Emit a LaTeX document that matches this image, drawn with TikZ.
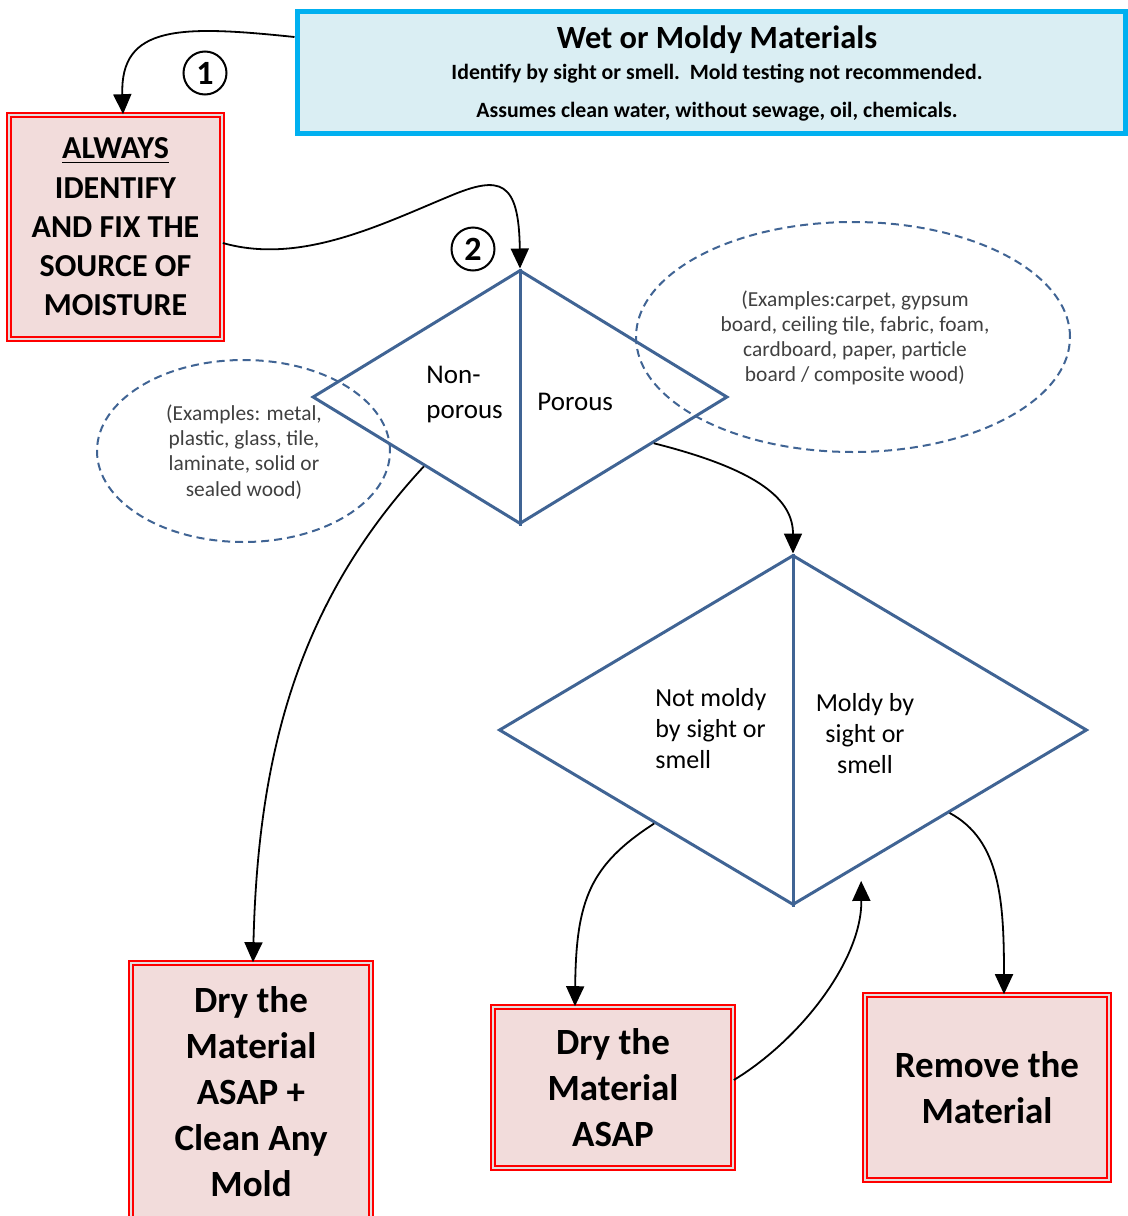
\documentclass[tikz,border=0pt]{standalone}
\usepackage{fontspec}
\setmainfont{Carlito}
\usetikzlibrary{arrows.meta,shapes.geometric,calc}
\definecolor{boxfill}{HTML}{F2DCDB}
\definecolor{topfill}{HTML}{DAEEF3}
\definecolor{topline}{HTML}{00B0F0}
\definecolor{dblue}{RGB}{64,100,148}
\definecolor{etext}{HTML}{404040}
\begin{document}
\begin{tikzpicture}[x=0.5pt,y=-0.5pt,
 redbox/.style={draw=red, double=black!12, double distance=1pt, line width=0.8pt, fill=boxfill, align=center, inner sep=0pt},
 dec/.style={diamond, draw=dblue, line width=1.5pt, inner sep=0pt},
 exell/.style={ellipse, draw=dblue, dash pattern=on 4pt off 2.5pt, line width=1pt, inner sep=0pt},
 txt/.style={inner sep=0pt},
 etxt/.style={inner sep=0pt, font=\fontsize{10.7}{12.6}\selectfont, text=etext, align=center},
 conn/.style={draw=black, line width=0.9pt, -{Triangle[length=10pt,width=9pt]}},
 num/.style={circle, draw, line width=1pt, minimum size=21.5pt, inner sep=0pt, font=\fontsize{17}{17}\selectfont\bfseries}
]
\useasboundingbox (0,0) rectangle (1128,1216);

% top box
\node[draw=topline, line width=2.5pt, fill=topfill, minimum width=414pt, minimum height=61pt, inner sep=0pt] (top) at (711,72) {};
\node[txt, font=\fontsize{16.2}{18}\selectfont\bfseries] (title) at (717,40) {Wet or Moldy Materials};
\node[txt, font=\fontsize{10.9}{12}\selectfont\bfseries] (sub1) at (717,74) {Identify by sight or smell.\ \ Mold testing not recommended.};
\node[txt, font=\fontsize{10.9}{12}\selectfont\bfseries] (sub2) at (717,112) {Assumes clean water, without sewage, oil, chemicals.};

% ellipses
\node[exell, minimum width=217pt, minimum height=115pt] (e1) at (853,337) {};
\node[etxt] (e1t) at (855,338) {(Examples:carpet, gypsum\\board, ceiling tile, fabric, foam,\\cardboard, paper, particle\\board / composite wood)};
\node[exell, minimum width=146.5pt, minimum height=91pt] (e2) at (243.5,451) {};
\node[etxt] (e2t) at (244,452) {(Examples: metal,\\plastic, glass, tile,\\laminate, solid or\\sealed wood)};

% diamonds
\node[dec, minimum width=207.5pt, minimum height=127pt] (d1) at (520,397) {};
\draw[dblue, line width=1.5pt] (d1.north) -- (d1.south);
\node[dec, minimum width=294pt, minimum height=175pt] (d2) at (793,730) {};
\draw[dblue, line width=1.5pt] (d2.north) -- (d2.south);

\node[txt, font=\fontsize{13.5}{17.5}\selectfont, align=left, anchor=west] (t1) at (426,395) {Non-\\porous};
\node[txt, font=\fontsize{13.5}{17.5}\selectfont, anchor=west] (t2) at (537,402) {Porous};
\node[txt, font=\fontsize{13}{15.5}\selectfont, align=left, anchor=west] (t3) at (655,729) {Not moldy\\by sight or\\smell};
\node[txt, font=\fontsize{13}{15.5}\selectfont, align=center] (t4) at (865,734) {Moldy by\\sight or\\smell};

% red boxes
\node[redbox, minimum width=106.5pt, minimum height=112pt, font=\fontsize{16}{19.6}\selectfont\bfseries] (always) at (115.5,227) {\underline{ALWAYS}\\IDENTIFY\\AND FIX THE\\SOURCE OF\\MOISTURE};
\node[redbox, minimum width=120pt, minimum height=128.5pt, font=\fontsize{18.5}{23}\selectfont\bfseries] (box3) at (251,1091.5) {Dry the\\Material\\ASAP +\\Clean Any\\Mold};
\node[redbox, minimum width=120pt, minimum height=80.5pt, font=\fontsize{18.5}{23}\selectfont\bfseries] (box4) at (613,1087.5) {Dry the\\Material\\ASAP};
\node[redbox, minimum width=122pt, minimum height=92.5pt, font=\fontsize{18.5}{23}\selectfont\bfseries] (box5) at (987,1087.5) {Remove the\\Material};

% numbers
\node[num] (n1) at (205,73) {1};
\node[num] (n2) at (473,249) {2};

% connectors
\draw[conn] ([yshift=17.5pt]top.west) .. controls (180,25) and (120,25) .. ([xshift=3.75pt]always.north);
\draw[conn] ([yshift=-8pt]always.east) .. controls (300,265) and (380,225) .. (450,196) .. controls (500,175) and (519,180) .. (d1.north);
\draw[conn] ($(d1.east)!0.36!(d1.south)$) .. controls (760,470) and (793,500) .. (d2.north);
\draw[conn] ($(d1.west)!0.54!(d1.south)$) .. controls (300,600) and (258,750) .. ([xshift=1pt]box3.north);
\draw[conn] ($(d2.west)!0.53!(d2.south)$) .. controls (590,865) and (576,900) .. ([xshift=-19pt]box4.north);
\draw[conn] ($(d2.east)!0.47!(d2.south)$) .. controls (1000,840) and (1004,900) .. ([xshift=8.5pt]box5.north);
\coordinate (c7) at ($(d2.south)!0.23!(d2.east)$);
\draw[conn, shorten >=7.5pt] ([yshift=3.75pt]box4.east) .. controls (800,1040) and (862,960) .. (c7);
\end{tikzpicture}
\end{document}
